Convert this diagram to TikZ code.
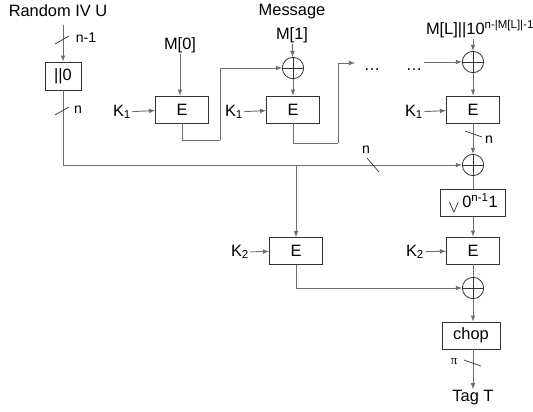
\documentclass[tikz,border=0pt]{standalone}
\usepackage{fontspec}
\setmainfont{Liberation Sans}
\newfontfamily\greekserif{Liberation Serif}
\usepackage{tikz}
\usetikzlibrary{arrows}
\definecolor{wire}{HTML}{6E6E6E}
\definecolor{edge}{HTML}{333333}

\tikzset{
  blk/.style={draw=edge, line width=0.7pt, minimum width=1.59cm, minimum height=0.81cm, inner sep=0pt},
  xor/.style={draw=edge, line width=0.7pt, circle, minimum size=0.64cm, inner sep=0pt,
    path picture={\draw[edge, line width=0.7pt] (path picture bounding box.north) -- (path picture bounding box.south)
      (path picture bounding box.west) -- (path picture bounding box.east);}},
  lbl/.style={inner sep=1pt},
  wireline/.style={draw=wire, line width=0.8pt},
  tick/.style={draw=edge, line width=0.6pt}
}

\begin{document}
\begin{tikzpicture}[x=0.03cm, y=-0.03cm, >=latex, font=\fontsize{14}{16}\selectfont]
    \useasboundingbox (0,0) rectangle (533,411);
    % input side
    \node[lbl] (iv) at (58,11) {Random IV U};
    \node[blk, minimum width=1.08cm, minimum height=0.84cm] (pad) at (63,76) {||0};
    \node[lbl, font=\fontsize{12}{14}\selectfont] (n1) at (86,38) {n-1};
    \node[lbl, font=\fontsize{12}{14}\selectfont] (n2) at (78,110) {n};
    % message blocks
    \node[lbl] (m0) at (180,45) {M[0]};
    \node[blk] (E1) at (182,109.5) {E};
    \node[lbl] (k1a) at (122,112) {K\textsubscript{1}};
    \node[lbl] (msg) at (292,12) {Message};
    \node[lbl] (m1) at (292,35) {M[1]};
    \node[xor] (X1) at (293,68) {};
    \node[blk] (E2) at (293,109.5) {E};
    \node[lbl] (k1b) at (234,112) {K\textsubscript{1}};
    \node[lbl] (d1) at (372,70) {\dots};
    \node[lbl] (d2) at (414,70) {\dots};
    \node[lbl] (mL) at (480,29) {M[L]||10\textsuperscript{n-|M[L]|-1}};
    \node[xor] (X2) at (473,62) {};
    \node[blk] (E3) at (473,109.5) {E};
    \node[lbl] (k1c) at (414,112) {K\textsubscript{1}};
    \node[lbl, font=\fontsize{12}{14}\selectfont] (n3) at (489,140) {n};
    % finalisation
    \node[xor] (X3) at (473,165) {};
    \node[lbl, font=\fontsize{12}{14}\selectfont] (n4) at (366,150) {n};
    \node[blk, minimum width=1.95cm] (pad2) at (473,203) {\raisebox{-0.6ex}{$\vee$}\,0\textsuperscript{n-1}1};
    \node[blk] (E4) at (473,250.5) {E};
    \node[lbl] (k2b) at (415,252) {K\textsubscript{2}};
    \node[blk] (E5) at (296,251) {E};
    \node[lbl] (k2a) at (240,252) {K\textsubscript{2}};
    \node[xor] (X4) at (473,288) {};
    \node[blk, minimum width=1.74cm] (chop) at (471,335.5) {chop};
    \node[lbl, font=\greekserif\fontsize{11}{13}\selectfont] (pi) at (454,362) {π};
    \node[lbl] (tag) at (473,398) {Tag T};
    \coordinate (c1) at (220,140);
    \coordinate (c2) at (338,143);
    \coordinate (br) at (296,165);
    \coordinate (tip) at (355,63);
    \coordinate (ivend) at (63,25);
    % wires
    \draw[wireline,->] (ivend) -- (pad);
    \draw[tick] (55,44) -- (69,36);
    \draw[wireline,->] (pad) |- (X3);
    \draw[tick] (55,115) -- (69,107);
    \draw[tick] (367,158) -- (379,172);
    \draw[wireline,->] (br) -- (E5);
    \draw[wireline,->] (m0) -- (E1.north -| m0);
    \draw[wireline,->] (k1a) -- (E1);
    \draw[wireline] (E1) |- (c1);
    \draw[wireline,->] (c1) |- (X1);
    \draw[wireline,->] (m1) -- (X1);
    \draw[wireline,->] (X1) -- (E2);
    \draw[wireline,->] (k1b) -- (E2);
    \draw[wireline] (E2) |- (c2);
    \draw[wireline,->] (c2) |- (tip);
    \draw[wireline,->] (d2.east |- X2) -- (X2);
    \draw[wireline,->] (mL.south -| X2) -- (X2);
    \draw[wireline,->] (X2) -- (E3);
    \draw[wireline,->] (k1c) -- (E3);
    \draw[wireline,->] (E3) -- (X3);
    \draw[tick] (465,131) -- (482,137);
    \draw[wireline] (X3) -- (pad2);
    \draw[wireline,->] (pad2) -- (E4);
    \draw[wireline,->] (k2b) -- (E4);
    \draw[wireline,->] (k2a) -- (E5);
    \draw[wireline] (E4) -- (X4);
    \draw[wireline,->] (E5) |- (X4);
    \draw[wireline,->] (X4) -- (chop.north -| X4);
    \draw[wireline,->] (chop.south -| X4) -- (tag);
    \draw[tick] (464,360) -- (481,366);
\end{tikzpicture}
\end{document}
